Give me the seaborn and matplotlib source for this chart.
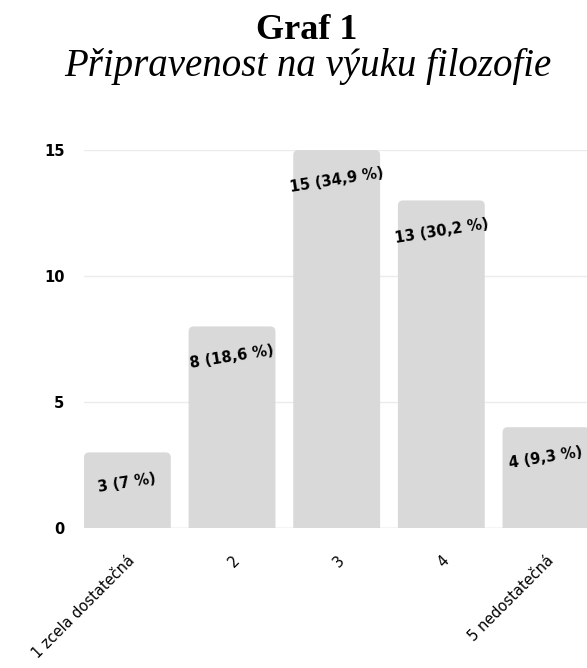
import pandas as pd
import seaborn as sns
import matplotlib.pyplot as plt
from matplotlib.patches import FancyBboxPatch

categories = ["1 zcela dostatečná", "2", "3", "4", "5 nedostatečná"]
counts = [3, 8, 15, 13, 4]
percents = ["7", "18,6", "34,9", "30,2", "9,3"]
yticks = [0, 5, 10, 15]

df = pd.DataFrame({"kategorie": categories, "pocet": counts})

sns.set_style("white")
plt.rcParams["font.family"] = ["DejaVu Sans"]
plt.rcParams["text.color"] = "black"
plt.rcParams["xtick.color"] = "black"
plt.rcParams["ytick.color"] = "black"

fig = plt.figure(figsize=(5.87, 6.68), dpi=100)
ax = fig.add_axes([0.143, 0.2096, 0.862, 0.5658])

sns.barplot(df, x="kategorie", y="pocet", color="#d9d9d9", saturation=1,
            width=0.83, ax=ax, zorder=2)

ax.set_xlim(-0.415, 4.42)
ax.set_ylim(0, 15)
ax.set_yticks(yticks)
ax.yaxis.grid(True, color="#ebebeb", linewidth=1, zorder=0)
ax.set_axisbelow(True)
for s in ax.spines.values():
    s.set_visible(False)
ax.set_xlabel("")
ax.set_ylabel("")
ax.tick_params(axis="both", length=0, labelsize=10.5)
ax.tick_params(axis="y", pad=14)
ax.tick_params(axis="x", pad=18)
for t in ax.get_yticklabels():
    t.set_fontweight("bold")
ax.set_xticks(range(len(categories)))
ax.set_xticklabels(categories, rotation=45, ha="right", rotation_mode="anchor")
ax.axhline(0, color="#d9d9d9", linewidth=1, zorder=1)

# rounded bar tops (bottoms hidden below the axis)
fig.canvas.draw()
px_x = ax.transData.transform((1, 0))[0] - ax.transData.transform((0, 0))[0]
px_y = ax.transData.transform((0, 1))[1] - ax.transData.transform((0, 0))[1]
for p in list(ax.patches):
    x, y, w, h = p.get_x(), p.get_y(), p.get_width(), p.get_height()
    p.remove()
    ax.add_patch(FancyBboxPatch((x, y - 1), w, h + 1,
                                boxstyle="round,pad=0,rounding_size=0.05",
                                mutation_aspect=px_x / px_y,
                                facecolor="#d9d9d9", edgecolor="none", zorder=2))

for i, (c, pc) in enumerate(zip(counts, percents)):
    ax.annotate(f"{c} ({pc} %)", xy=(i, c), xytext=(0, -22),
                textcoords="offset points", ha="center", va="center",
                rotation=9, fontsize=10.5, fontweight="bold", zorder=3)

fig.text(0.522, 0.955, "Graf 1", ha="center", va="center",
         family="Liberation Serif", fontweight="bold", fontsize=26)
fig.text(0.524, 0.9, "Připravenost na výuku filozofie", ha="center", va="center",
         family="Liberation Serif", style="italic", fontsize=28)

plt.savefig("out.png", dpi=100)
